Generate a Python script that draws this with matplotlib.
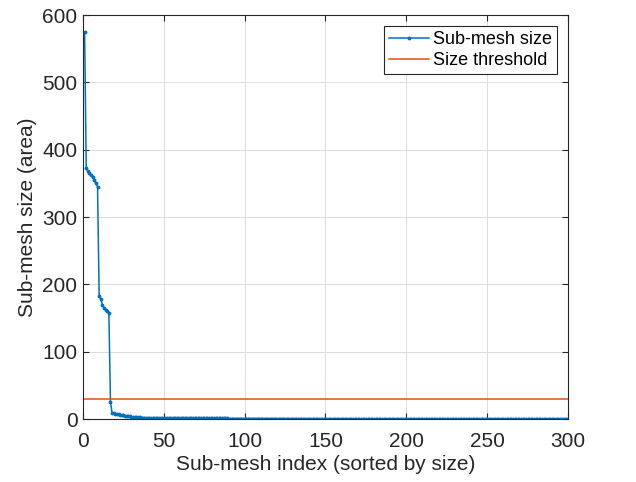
import matplotlib
matplotlib.use("Agg")
import matplotlib.pyplot as plt

head_sizes = [575, 373, 368, 366, 363, 360, 355, 350, 345,
              182, 178, 170, 165, 162, 160, 157, 25,
              9.0, 8.5, 8.0, 7.5, 7.0, 6.5, 6.0, 5.5, 5.0, 4.6,
              4.2, 3.8, 3.5, 3.2, 3.0, 2.8, 2.6, 2.4, 2.2, 2.1,
              2.0, 1.9, 1.8]
tail_sizes = [
    1.80, 1.75, 1.70, 1.65, 1.60, 1.55, 1.50, 1.45, 1.40, 1.38,
    1.35, 1.32, 1.30, 1.28, 1.25, 1.22, 1.20, 1.18, 1.15, 1.12,
    1.10, 1.08, 1.06, 1.04, 1.02, 1.00, 0.98, 0.96, 0.95, 0.94,
    0.93, 0.92, 0.91, 0.90, 0.89, 0.88, 0.87, 0.86, 0.85, 0.84,
    0.83, 0.82, 0.81, 0.80, 0.79, 0.78, 0.77, 0.76, 0.75, 0.74,
    0.73, 0.72, 0.71, 0.70, 0.70, 0.69, 0.68, 0.68, 0.67, 0.66,
    0.66, 0.65, 0.64, 0.64, 0.63, 0.62, 0.62, 0.61, 0.60, 0.60,
    0.59, 0.58, 0.58, 0.57, 0.56, 0.56, 0.55, 0.55, 0.54, 0.54,
    0.53, 0.53, 0.52, 0.52, 0.51, 0.51, 0.50, 0.50, 0.49, 0.49,
    0.48, 0.48, 0.47, 0.47, 0.46, 0.46, 0.45, 0.45, 0.44, 0.44,
    0.43, 0.43, 0.42, 0.42, 0.41, 0.41, 0.40, 0.40, 0.40, 0.39,
    0.39, 0.38, 0.38, 0.38, 0.37, 0.37, 0.36, 0.36, 0.36, 0.35,
    0.35, 0.35, 0.34, 0.34, 0.34, 0.33, 0.33, 0.33, 0.32, 0.32,
    0.32, 0.31, 0.31, 0.31, 0.30, 0.30, 0.30, 0.30, 0.29, 0.29,
    0.29, 0.28, 0.28, 0.28, 0.28, 0.27, 0.27, 0.27, 0.27, 0.26,
    0.26, 0.26, 0.26, 0.25, 0.25, 0.25, 0.25, 0.24, 0.24, 0.24,
    0.24, 0.23, 0.23, 0.23, 0.23, 0.22, 0.22, 0.22, 0.22, 0.21,
    0.21, 0.21, 0.21, 0.20, 0.20, 0.20, 0.20, 0.19, 0.19, 0.19,
    0.19, 0.18, 0.18, 0.18, 0.18, 0.17, 0.17, 0.17, 0.17, 0.16,
    0.16, 0.16, 0.16, 0.15, 0.15, 0.15, 0.15, 0.14, 0.14, 0.14,
    0.14, 0.13, 0.13, 0.13, 0.13, 0.12, 0.12, 0.12, 0.12, 0.11,
    0.11, 0.11, 0.11, 0.10, 0.10, 0.10, 0.10, 0.09, 0.09, 0.09,
    0.09, 0.08, 0.08, 0.08, 0.08, 0.07, 0.07, 0.07, 0.07, 0.06,
    0.06, 0.06, 0.06, 0.05, 0.05, 0.05, 0.05, 0.04, 0.04, 0.04,
    0.04, 0.03, 0.03, 0.03, 0.03, 0.02, 0.02, 0.02, 0.02, 0.01,
    0.01, 0.01, 0.01, 0.01, 0.01, 0.01, 0.01, 0.01, 0.01, 0.01,
]
sizes = head_sizes + tail_sizes
indices = list(range(1, len(sizes) + 1))
threshold = 30
x_ticks = [0, 50, 100, 150, 200, 250, 300]
y_ticks = [0, 100, 200, 300, 400, 500, 600]

plt.rcParams['font.family'] = ['Liberation Sans', 'DejaVu Sans']

fig = plt.figure(figsize=(6.36, 4.82), dpi=100)
ax = fig.add_axes([0.1305, 0.1307, 0.7625, 0.838])

ax.plot(indices, sizes, color='#0072BD', lw=1.1, marker='.', ms=3.5,
        label='Sub-mesh size')
ax.axhline(threshold, color='#D95319', lw=1.1, label='Size threshold')

ax.set_xlim(0, 300)
ax.set_ylim(0, 600)
ax.set_xticks(x_ticks)
ax.set_yticks(y_ticks)
ax.grid(True, color='#dcdcdc', lw=0.7)
ax.set_axisbelow(True)
ax.tick_params(direction='in', top=True, right=True, labelsize=15,
               colors='#262626', length=4)
ax.tick_params(axis='x', pad=9)
ax.tick_params(axis='y', pad=4)
for s in ax.spines.values():
    s.set_color('#262626')
    s.set_linewidth(0.8)
ax.set_xlabel('Sub-mesh index (sorted by size)', fontsize=15, color='#262626', labelpad=3)
ax.set_ylabel('Sub-mesh size (area)', fontsize=15, color='#262626', labelpad=4)

leg = ax.legend(loc='upper right', fontsize=13, fancybox=False, framealpha=1,
                edgecolor='#262626', borderpad=0.3, handlelength=2.2,
                handletextpad=0.2, labelspacing=0.2, borderaxespad=0.6)
leg.get_frame().set_linewidth(0.8)

fig.savefig('out.png', dpi=100)
